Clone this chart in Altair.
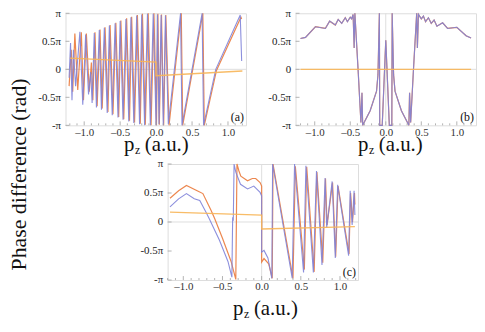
import altair as alt
import pandas as pd

FONT = "Liberation Serif"
BLUE = "#7f83d9"
ORANGE = "#ea7a3c"
YELLOW = "#f7b557"
FRAME = "#a0a0a0"

# ---------------- panel (a) ----------------
a_blue_pz = [-1.21, -1.19, -1.17, -1.15, -1.12, -1.06, -1.02, -0.98, -0.94, -0.91, -0.89, -0.86, -0.83,
             -0.79, -0.76, -0.72, -0.68, -0.65, -0.61, -0.57, -0.53, -0.50, -0.46, -0.42, -0.38, -0.35,
             -0.31, -0.27, -0.23, -0.20, -0.16, -0.12, -0.08, -0.04, 0.00, 0.02, 0.04, 0.07, 0.10, 0.13,
             0.17, 0.34, 0.36, 0.64, 0.66, 0.83, 1.17, 1.19]
a_blue_ph = [-0.15, 0.47, -0.55, 0.35, -0.30, 0.67, -0.63, 0.62, -0.45, -0.05, -0.60, 0.65, -0.68,
             0.70, -0.72, 0.74, -0.78, 0.78, -0.82, 0.82, -0.86, 0.86, -0.90, 0.90, -0.93, 0.93,
             -0.96, 0.96, -0.98, 0.98, -1.0, 0.99, -1.0, 0.99, -1.0, 0.98, -0.98, 0.97, -1.0, 0.96,
             -0.98, 1.0, -1.0, 1.0, -1.0, 0.0, 0.97, 0.15]
a_orange_pz = [-1.21, -1.18, -1.16, -1.13, -1.09, -1.04, -1.01, -0.97, -0.93, -0.90, -0.88, -0.85, -0.82,
               -0.78, -0.75, -0.71, -0.67, -0.64, -0.60, -0.56, -0.52, -0.49, -0.45, -0.41, -0.37, -0.34,
               -0.30, -0.26, -0.22, -0.19, -0.15, -0.11, -0.07, -0.03, 0.005, 0.025, 0.045, 0.075, 0.105,
               0.135, 0.18, 0.35, 0.37, 0.65, 0.67, 0.84, 1.18, 1.19]
a_orange_ph = [-0.30, 0.35, -0.40, 0.64, -0.37, 0.66, -0.55, 0.64, -0.40, 0.12, -0.55, 0.66, -0.66,
               0.71, -0.70, 0.75, -0.76, 0.79, -0.80, 0.83, -0.85, 0.87, -0.89, 0.91, -0.92, 0.94,
               -0.95, 0.97, -0.97, 0.99, -0.99, 1.0, -1.0, 1.0, -1.0, 0.99, -0.99, 0.98, -1.0,
               0.97, -1.0, 1.0, -1.0, 1.0, -1.0, -0.02, 0.93, 0.90]
a_yellow_pz = [-1.20, 0.0, 0.0, 1.20]
a_yellow_ph = [0.20, 0.13, -0.115, -0.03]

# ---------------- panel (b) ----------------
b_blue_pz = [-1.20, -1.13, -0.99, -0.85, -0.79, -0.71, -0.67, -0.62, -0.57, -0.54, -0.50, -0.48, -0.46,
             -0.445, -0.435, -0.39, -0.35, -0.335, -0.325, -0.22, -0.13, -0.11, -0.09, -0.085, -0.05,
             0.0, 0.05, 0.085, 0.09, 0.11, 0.13, 0.22, 0.325, 0.335, 0.35, 0.39, 0.435, 0.445, 0.46,
             0.50, 0.53, 0.56, 0.60, 0.64, 0.68, 0.72, 0.80, 0.87, 1.0, 1.13, 1.20]
b_blue_ph = [0.55, 0.57, 0.76, 0.73, 0.86, 0.79, 0.89, 0.82, 0.92, 0.85, 0.93, 0.90, 0.98,
             0.38, 1.0, 0.0, -0.95, -0.42, -1.0, -0.74, -0.39, -0.10, 1.0, -1.0, -1.0,
             0.52, -1.0, -1.0, 1.0, -0.10, -0.39, -0.74, -1.0, -0.42, -0.95, 0.0, 1.0, 0.38, 0.98,
             0.90, 0.95, 0.85, 0.92, 0.82, 0.88, 0.77, 0.83, 0.73, 0.75, 0.60, 0.56]
b_orange_pz = b_blue_pz
b_orange_ph = b_blue_ph
b_yellow_pz = [-1.20, 1.20]
b_yellow_ph = [0.0, 0.0]

# ---------------- panel (c) ----------------
c_blue_pz = [-1.17, -1.06, -0.96, -0.86, -0.79, -0.71, -0.67, -0.54, -0.43, -0.38, -0.37, -0.362,
             -0.352, -0.33, -0.27, -0.18, -0.10, -0.02, 0.0, 0.0, 0.03, 0.08, 0.13, 0.14, 0.39, 0.42,
             0.535, 0.565, 0.66, 0.70, 0.77, 0.81, 0.83, 0.90, 0.94, 0.97, 1.11, 1.13, 1.155, 1.18, 1.19]
c_blue_ph = [0.26, 0.40, 0.49, 0.40, 0.37, 0.17, 0.06, -0.31, -0.68, -0.95, 0.08, 0.02,
             1.0, 0.86, 0.65, 0.57, 0.62, 0.51, 0.45, -0.52, -0.49, -0.62, -0.97, 1.0, -0.97, 1.0,
             -0.87, 0.97, -0.87, 0.88, -0.74, 0.76, -0.10, 0.70, -0.62, 0.64, -0.58, 0.54, -0.05, 0.54, 0.12]
c_orange_pz = [-1.17, -1.06, -0.96, -0.81, -0.75, -0.645, -0.60, -0.50, -0.39, -0.33, -0.315, -0.29,
               -0.266, -0.18, -0.12, -0.076, -0.02, 0.0, 0.0, 0.03, 0.09, 0.135, 0.145, 0.40, 0.43,
               0.545, 0.575, 0.67, 0.705, 0.78, 0.815, 0.835, 0.905, 0.945, 0.975, 1.115, 1.135, 1.16,
               1.185, 1.19]
c_orange_ph = [0.41, 0.54, 0.63, 0.53, 0.49, 0.20, 0.06, -0.28, -0.68, -0.99, 1.0, 0.88,
               0.79, 0.71, 0.75, 0.75, 0.68, 0.62, -0.69, -0.63, -0.72, -0.97, 1.0, -0.97, 0.96,
               -0.82, 0.95, -0.86, 0.86, -0.70, 0.75, -0.05, 0.68, -0.60, 0.62, -0.55, 0.50, 0.0,
               0.50, 0.30]
c_yellow_pz = [-1.17, 0.0, 0.0, 1.19]
c_yellow_ph = [0.17, 0.12, -0.12, -0.08]

# ticks and labels
x_major = [-1.0, -0.5, 0.0, 0.5, 1.0]
x_minor = [-1.2, -1.1, -0.9, -0.8, -0.7, -0.6, -0.4, -0.3, -0.2, -0.1,
           0.1, 0.2, 0.3, 0.4, 0.6, 0.7, 0.8, 0.9, 1.1, 1.2]
y_major = [-1.0, -0.5, 0.0, 0.5, 1.0]
y_label_expr = ("datum.value == 1 ? 'π' : datum.value == 0.5 ? '0.5π' : datum.value == 0 ? '0' : "
                "datum.value == -0.5 ? '-0.5π' : '-π'")
x_label_expr = "datum.value < 0 ? '\u2013' + format(-datum.value, '.1f') : format(datum.value, '.1f')"


def series_df(pz, ph):
    return pd.DataFrame({"pz": pz, "ph": ph, "i": list(range(len(pz)))})


def panel(blue, orange, yellow, domain, W, H, tag, title_start, title_base):
    xs = alt.Scale(domain=domain, nice=False, zero=False)
    ys = alt.Scale(domain=[-1, 1], nice=False, zero=False)
    X = lambda: alt.X("pz:Q", scale=xs, axis=alt.Axis(values=x_major, labelExpr=x_label_expr, ticks=False,
                                                      domain=False, grid=False, title=None, labelFont=FONT,
                                                      labelFontSize=11, labelColor="#333",
                                                      labelPadding=1))
    Y = lambda: alt.Y("ph:Q", scale=ys, axis=alt.Axis(values=y_major, labelExpr=y_label_expr, ticks=False,
                                                      domain=False, grid=False, title=None, labelFont=FONT,
                                                      labelFontSize=11, labelColor="#222", labelPadding=5))

    layers = []
    zero_df = pd.DataFrame({"pz": [0.0], "ph": [0.0]})
    layers.append(alt.Chart(zero_df).mark_rule(color="#dedede", strokeWidth=1).encode(x=X(), y=alt.value(0), y2=alt.value(H)))
    layers.append(alt.Chart(zero_df).mark_rule(color="#dedede", strokeWidth=1).encode(y=Y(), x=alt.value(0), x2=alt.value(W)))
    for (pz, ph), col, sw in ((orange, ORANGE, 1.2), (blue, BLUE, 1.1), (yellow, YELLOW, 1.3)):
        layers.append(alt.Chart(series_df(pz, ph)).mark_line(color=col, strokeWidth=sw, opacity=0.9)
                      .encode(x=X(), y=Y(), order=alt.Order("i:Q")))
    # inward frame ticks
    layers.append(alt.Chart(pd.DataFrame({"pz": x_major})).mark_rule(color=FRAME, strokeWidth=0.8)
                  .encode(x=X(), y=alt.value(H), y2=alt.value(H - 4)))
    layers.append(alt.Chart(pd.DataFrame({"pz": x_minor})).mark_rule(color=FRAME, strokeWidth=0.8)
                  .encode(x=X(), y=alt.value(H), y2=alt.value(H - 2)))
    layers.append(alt.Chart(pd.DataFrame({"ph": y_major})).mark_rule(color=FRAME, strokeWidth=0.8)
                  .encode(y=Y(), x=alt.value(0), x2=alt.value(4)))
    # panel tag
    layers.append(alt.Chart(pd.DataFrame({"t": [tag]})).mark_text(font=FONT, fontSize=12, align="right",
                                                                  baseline="alphabetic", color="#111")
                  .encode(text="t:N", x=alt.value(W - 2), y=alt.value(H - 4)))
    # x title: p_z (a.u.)
    tdf = pd.DataFrame({"t": ["p"]})
    layers.append(alt.Chart(tdf).mark_text(font=FONT, fontSize=21, align="left", baseline="alphabetic",
                                           color="#111", text="p")
                  .encode(x=alt.value(title_start), y=alt.value(title_base)))
    layers.append(alt.Chart(tdf).mark_text(font=FONT, fontSize=12, align="left", baseline="alphabetic",
                                           color="#111", text="z")
                  .encode(x=alt.value(title_start + 11), y=alt.value(title_base + 3)))
    layers.append(alt.Chart(tdf).mark_text(font=FONT, fontSize=21, align="left", baseline="alphabetic",
                                           color="#111", text="(a.u.)")
                  .encode(x=alt.value(title_start + 21), y=alt.value(title_base)))
    return alt.layer(*layers).properties(width=W, height=H)


pa = panel((a_blue_pz, a_blue_ph), (a_orange_pz, a_orange_ph), (a_yellow_pz, a_yellow_ph),
           [-1.26, 1.25], 182, 113, "(a)", 59, 139)
pb = panel((b_blue_pz, b_blue_ph), (b_orange_pz, b_orange_ph), (b_yellow_pz, b_yellow_ph),
           [-1.27, 1.27], 182, 113, "(b)", 63, 139)
pc = panel((c_blue_pz, c_blue_ph), (c_orange_pz, c_orange_ph), (c_yellow_pz, c_yellow_ph),
           [-1.20, 1.23], 192, 117, "(c)", 66, 152)

spacer = (alt.Chart(pd.DataFrame({"v": [0]})).mark_point(opacity=0)
          .encode(x=alt.X("v:Q", axis=None), y=alt.Y("v:Q", axis=None))
          .properties(width=53, height=117, view=alt.ViewBackground(stroke="transparent")))

top = alt.hconcat(pa, pb, spacing=50, bounds="flush")
bottom = alt.hconcat(spacer, pc, spacing=50, bounds="flush")
chart = (alt.vconcat(top, bottom, spacing=0)
         .properties(padding={"left": 0, "top": -3, "right": 0, "bottom": 0},
                     title=alt.TitleParams("Phase difference (rad)", orient="left", anchor="middle",
                                           font=FONT, fontSize=22, fontWeight="normal", color="#111",
                                           offset=6, dx=-11))
         .configure_view(stroke=FRAME, strokeWidth=1)
         .configure(background="white"))

chart.save("out.html", embed_options={"renderer": "svg", "actions": False})
